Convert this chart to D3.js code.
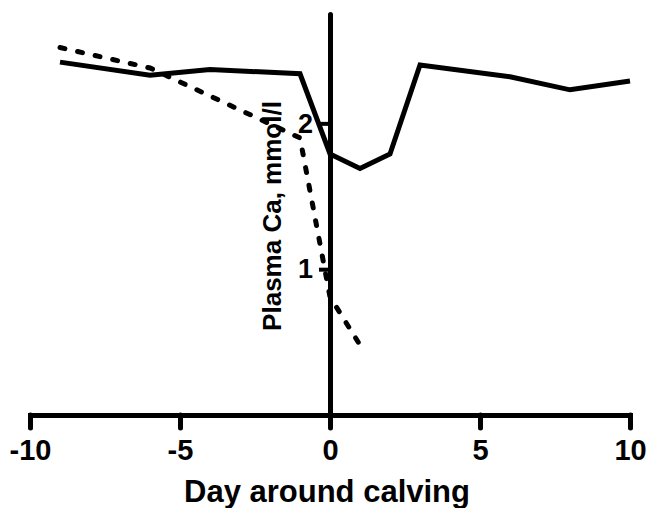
<!DOCTYPE html>
<html>
<head>
<meta charset="utf-8">
<script src="https://cdn.jsdelivr.net/npm/d3@7.9.0/dist/d3.min.js"></script>
<style>
  html, body { margin: 0; padding: 0; background: #fff; }
  svg { display: block; font-family: "Liberation Sans", Arial, sans-serif; font-weight: bold; }
</style>
</head>
<body>
<svg id="chart" width="648" height="508"></svg>
<script>
// Plasma Ca around calving, two groups
const daysSolid = [-9, -6, -4, -1, 0, 1, 2, 3, 6, 8, 10];
const caSolid   = [2.42, 2.33, 2.37, 2.34, 1.79, 1.69, 1.79, 2.40, 2.32, 2.23, 2.29];

const daysDashed = [-9, -6, -1, 0, 1];
const caDashed   = [2.52, 2.38, 1.90, 0.81, 0.48];

const xTicks = [-10, -5, 0, 5, 10];
const yTicks = [1, 2];

const svg = d3.select("#chart");

const x = d3.scaleLinear().domain([-10, 10]).range([30, 630]);
const y = d3.scaleLinear().domain([0, 2.75]).range([415, 14]);

// plain hyphen, no decimals
const fmt = d => String(d);

/******************************************************
 * Axes
 ******************************************************/
const xAxis = svg.append("g")
  .attr("transform", `translate(0,${y(0)})`)
  .call(d3.axisBottom(x).tickValues(xTicks).tickFormat(fmt)
    .tickSize(13).tickSizeOuter(0).tickPadding(11));
xAxis.select(".domain").attr("stroke-width", 5).attr("stroke-linecap", "square");
xAxis.selectAll(".tick line").attr("stroke-width", 5).attr("stroke-linecap", "round");
xAxis.selectAll(".tick text")
  .attr("font-size", 29)
  .attr("font-weight", "bold")
  .attr("font-family", "Liberation Sans, Arial, sans-serif")
  .attr("fill", "#000");

// y axis sits at day 0
const yAxis = svg.append("g")
  .attr("transform", `translate(${x(0)},0)`)
  .call(d3.axisLeft(y).tickValues(yTicks).tickFormat(fmt)
    .tickSize(11).tickSizeOuter(0).tickPadding(6));
yAxis.select(".domain").attr("stroke-width", 5).attr("stroke-linecap", "round");
yAxis.selectAll(".tick line").attr("stroke-width", 4);
yAxis.selectAll(".tick text")
  .attr("font-size", 27)
  .attr("font-weight", "bold")
  .attr("font-family", "Liberation Sans, Arial, sans-serif")
  .attr("fill", "#000");

// axis titles
svg.append("text")
  .attr("x", 327)
  .attr("y", 502)
  .attr("text-anchor", "middle")
  .attr("font-size", 31)
  .text("Day around calving");

svg.append("text")
  .attr("transform", "translate(281,216) rotate(-90)")
  .attr("text-anchor", "middle")
  .attr("font-size", 26)
  .text("Plasma Ca, mmol/l");

/******************************************************
 * Lines
 ******************************************************/
const line = d3.line()
  .x(d => x(d[0]))
  .y(d => y(d[1]));

svg.append("path")
  .datum(d3.zip(daysSolid, caSolid))
  .attr("fill", "none")
  .attr("stroke", "#000")
  .attr("stroke-width", 5)
  .attr("stroke-linejoin", "miter")
  .attr("d", line);

svg.append("path")
  .datum(d3.zip(daysDashed, caDashed))
  .attr("fill", "none")
  .attr("stroke", "#000")
  .attr("stroke-width", 5)
  .attr("stroke-linecap", "round")
  .attr("stroke-dasharray", "5,13")
  .attr("d", line);
</script>
</body>
</html>
